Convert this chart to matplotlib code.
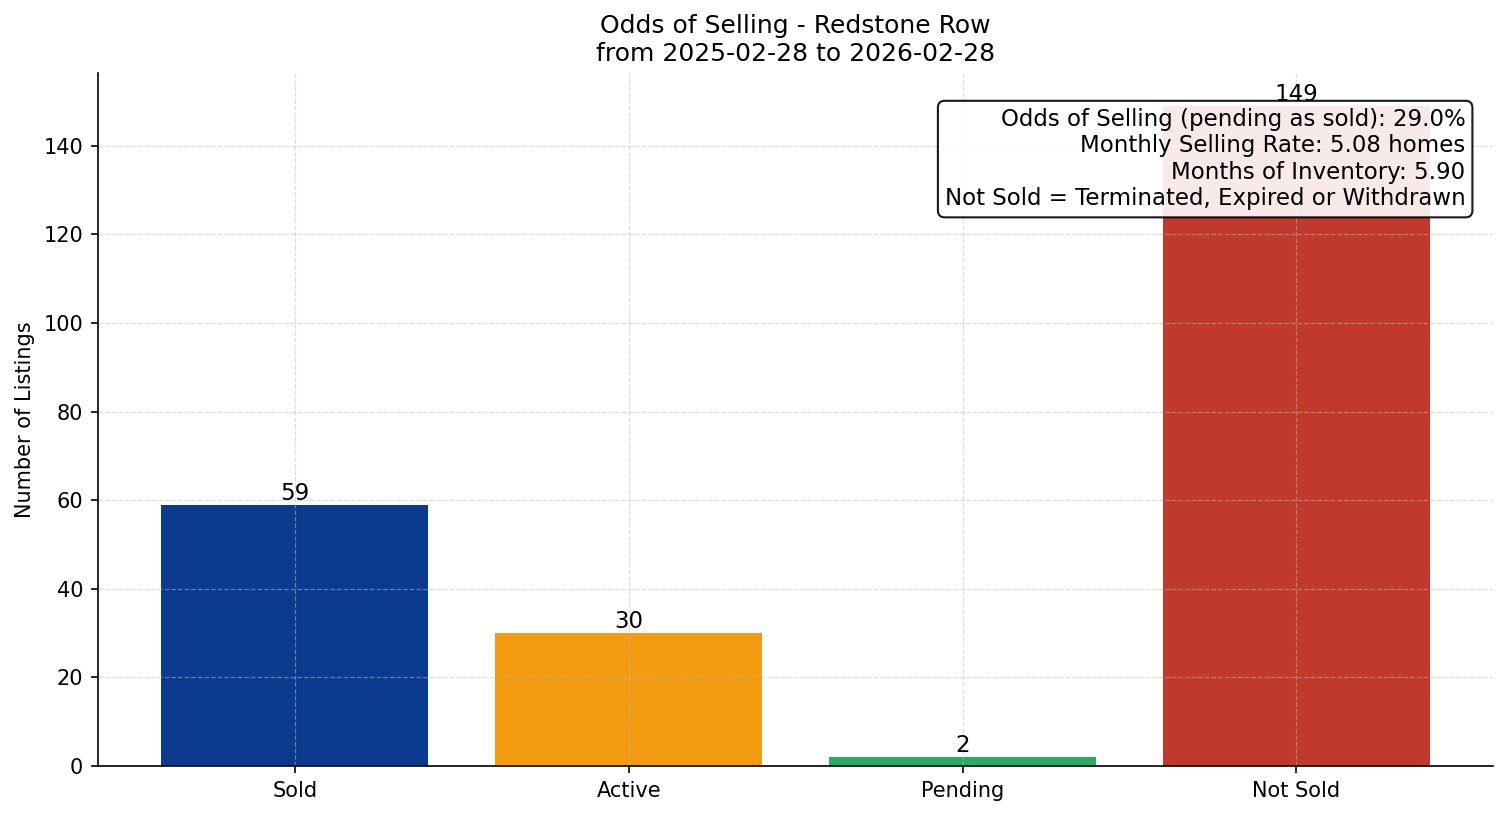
import matplotlib.pyplot as plt

categories = ["Sold", "Active", "Pending", "Not Sold"]
counts = [59, 30, 2, 149]
bar_colors = ["#0b3b8f", "#f39c12", "#27ae60", "#c0392b"]

area = "Redstone Row"
start_date = "2025-02-28"
end_date = "2026-02-28"
odds = 29.0
monthly_rate = 5.08
months_inventory = 5.90

fig, ax = plt.subplots(figsize=(1507 / 150, 816 / 150), dpi=150)

bars = ax.bar(categories, counts, color=bar_colors, width=0.8)
for b, v in zip(bars, counts):
    ax.text(b.get_x() + b.get_width() / 2, v, str(v), ha="center", va="bottom", fontsize=11)

ax.set_ylim(0, max(counts) * 1.05)
ax.set_ylabel("Number of Listings", fontsize=10)
ax.set_title(f"Odds of Selling - {area}\nfrom {start_date} to {end_date}", fontsize=12)
ax.tick_params(labelsize=10)
ax.grid(True, linestyle="--", alpha=0.5, color="#bbbbbb", linewidth=0.6)
ax.spines["top"].set_visible(False)
ax.spines["right"].set_visible(False)

# caja de texto con los indicadores
info = (f"Odds of Selling (pending as sold): {odds:.1f}%\n"
        f"Monthly Selling Rate: {monthly_rate:.2f} homes\n"
        f"Months of Inventory: {months_inventory:.2f}\n"
        "Not Sold = Terminated, Expired or Withdrawn")
ax.text(0.98, 0.95, info, transform=ax.transAxes, ha="right", va="top", fontsize=11,
        bbox=dict(boxstyle="round,pad=0.3", facecolor="white", edgecolor="black", alpha=0.9))

fig.subplots_adjust(left=0.065, right=0.991, top=0.9105, bottom=0.0613)
plt.savefig("out.png")
